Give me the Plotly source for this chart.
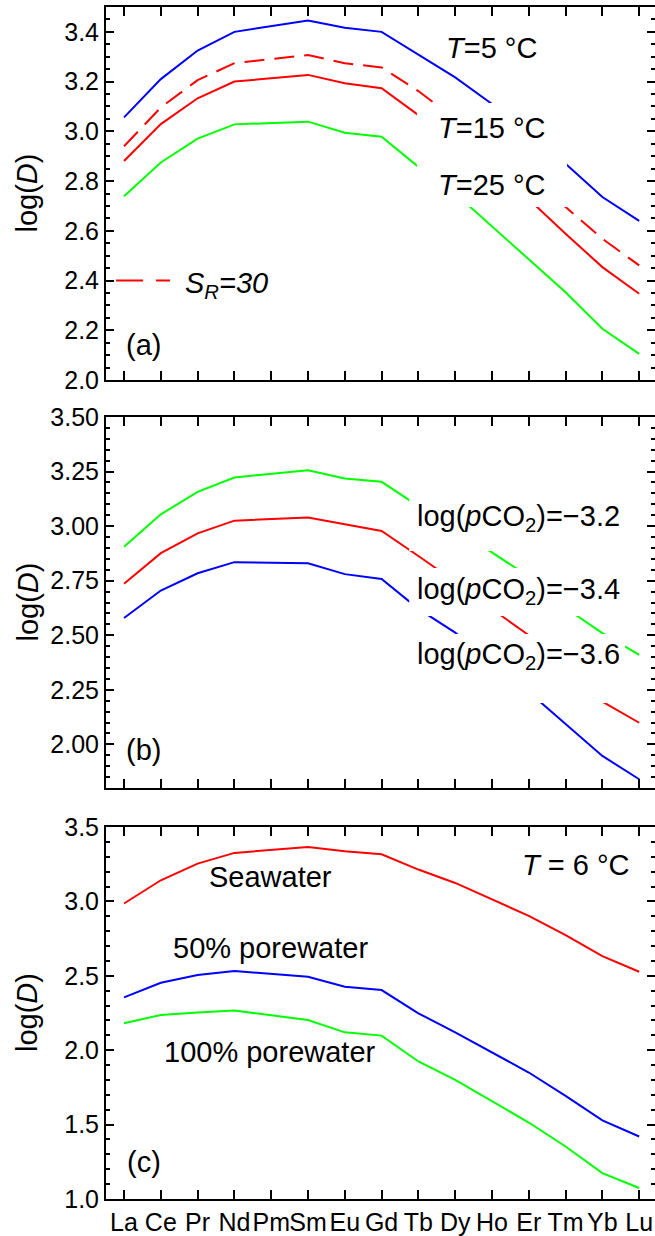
import plotly.graph_objects as go

# ---------------- data ----------------
elements = ["La", "Ce", "Pr", "Nd", "Pm", "Sm", "Eu", "Gd", "Tb", "Dy", "Ho", "Er", "Tm", "Yb", "Lu"]
elements_data = ["La", "Ce", "Pr", "Nd", "Sm", "Eu", "Gd", "Tb", "Dy", "Ho", "Er", "Tm", "Yb", "Lu"]

# panel (a): temperature
a_T5 = [3.056, 3.210, 3.325, 3.400, 3.446, 3.417, 3.400, 3.307, 3.217, 3.110, 2.990, 2.870, 2.736, 2.640]
a_SR30 = [2.940, 3.096, 3.206, 3.274, 3.307, 3.274, 3.257, 3.162, 3.050, 2.930, 2.810, 2.696, 2.568, 2.461]
a_T15 = [2.881, 3.029, 3.133, 3.200, 3.227, 3.193, 3.173, 3.065, 2.950, 2.840, 2.727, 2.588, 2.454, 2.347]
a_T25 = [2.739, 2.875, 2.971, 3.028, 3.039, 2.994, 2.978, 2.857, 2.750, 2.619, 2.486, 2.353, 2.206, 2.105]

# panel (b): pCO2
b_m32 = [2.906, 3.054, 3.157, 3.223, 3.256, 3.218, 3.203, 3.092, 2.990, 2.879, 2.769, 2.625, 2.510, 2.410]
b_m34 = [2.736, 2.876, 2.967, 3.025, 3.039, 3.010, 2.978, 2.863, 2.745, 2.620, 2.500, 2.343, 2.196, 2.099]
b_m36 = [2.579, 2.705, 2.784, 2.835, 2.830, 2.780, 2.758, 2.621, 2.512, 2.373, 2.240, 2.093, 1.947, 1.840]

# panel (c): water type
c_sea = [2.986, 3.142, 3.254, 3.326, 3.366, 3.337, 3.317, 3.214, 3.124, 3.015, 2.903, 2.773, 2.632, 2.527]
c_50 = [2.355, 2.453, 2.505, 2.532, 2.494, 2.427, 2.404, 2.248, 2.120, 1.986, 1.850, 1.693, 1.528, 1.420]
c_100 = [2.181, 2.237, 2.254, 2.266, 2.203, 2.120, 2.098, 1.924, 1.800, 1.655, 1.514, 1.353, 1.174, 1.074]

BLUE, RED, GREEN = "#0000FF", "#FF0000", "#00FF00"
FONT = "Liberation Sans, Arial, sans-serif"

fig = go.Figure()


def add(xa, ya, y, color, dash="solid"):
    fig.add_trace(go.Scatter(x=elements_data, y=y, mode="lines",
                             line=dict(color=color, width=2, dash=dash),
                             xaxis=xa, yaxis=ya, showlegend=False, hoverinfo="skip"))


add("x", "y", a_T5, BLUE)
add("x", "y", a_SR30, RED, "20px,10px")
add("x", "y", a_T15, RED)
add("x", "y", a_T25, GREEN)
add("x2", "y2", b_m32, GREEN)
add("x2", "y2", b_m34, RED)
add("x2", "y2", b_m36, BLUE)
add("x3", "y3", c_sea, RED)
add("x3", "y3", c_50, BLUE)
add("x3", "y3", c_100, GREEN)

top, bot = 7.0, 1199.0
ph = bot - top


def dom(p_top, p_bot):
    return [(bot - p_bot) / ph, (bot - p_top) / ph]


xcommon = dict(type="category", categoryorder="array", categoryarray=elements,
               range=[-0.49, 14.43], showline=True, linecolor="black", linewidth=2,
               mirror="allticks", ticks="inside", ticklen=9, tickwidth=2, tickcolor="black",
               showgrid=False, zeroline=False, tickangle=0, automargin=False,
               tickfont=dict(size=25, color="black", family=FONT))


def ycommon(rng, dtick, fmt, mdtick):
    return dict(range=rng, tick0=0, dtick=dtick, tickformat=fmt, automargin=False,
                showline=True, linecolor="black", linewidth=2, mirror="allticks",
                ticks="inside", ticklen=8, tickwidth=2, tickcolor="black",
                minor=dict(dtick=mdtick, tick0=0, ticks="inside", ticklen=4,
                           tickwidth=2, tickcolor="black"),
                showgrid=False, zeroline=False,
                tickfont=dict(size=25, color="black", family=FONT))


fig.update_layout(
    width=655, height=1236,
    margin=dict(l=106, r=0, t=7, b=37, autoexpand=False),
    paper_bgcolor="white", plot_bgcolor="white",
    font=dict(family=FONT, color="black"),
    xaxis=dict(xcommon, anchor="y", domain=[0, 1], showticklabels=False),
    xaxis2=dict(xcommon, anchor="y2", domain=[0, 1], showticklabels=False),
    xaxis3=dict(xcommon, anchor="y3", domain=[0, 1], showticklabels=True),
    yaxis=dict(ycommon([2.0, 3.5], 0.2, ".1f", 0.05), anchor="x", domain=dom(7, 380)),
    yaxis2=dict(ycommon([1.8, 3.5], 0.25, ".2f", 0.05), anchor="x2", domain=dom(417, 788)),
    yaxis3=dict(ycommon([1.0, 3.5], 0.5, ".1f", 0.1), anchor="x3", domain=dom(827, 1199)),
)

# white boxes behind labels (cut the lines as in the original)
boxes = [
    ("x", "y", 7.96, 12.04, 2.905, 3.114),
    ("x", "y", 7.96, 12.04, 2.696, 2.905),
    ("x2", "y2", 7.75, 13.62, 2.886, 3.143),
    ("x2", "y2", 7.75, 13.62, 2.588, 2.808),
    ("x2", "y2", 7.75, 13.62, 2.189, 2.506),
]
shapes = []
for xr, yr, x0, x1, y0, y1 in boxes:
    shapes.append(dict(type="rect", xref=xr, yref=yr, x0=x0, x1=x1, y0=y0, y1=y1,
                       fillcolor="white", line=dict(width=0), layer="above"))
# legend key for the dashed S_R=30 line
shapes.append(dict(type="line", xref="x", yref="y", x0=-0.217, x1=1.25, y0=2.4, y1=2.4,
                   line=dict(color=RED, width=2, dash="27px,13px"), layer="above"))
fig.update_layout(shapes=shapes)

AF = dict(size=29, color="black", family=FONT)
ann = []


def txt(xr, yr, x, y, text, xanchor="center"):
    ann.append(dict(xref=xr, yref=yr, x=x, y=y, text=text, showarrow=False,
                    xanchor=xanchor, yanchor="middle", font=AF))


txt("x", "y", 10.0, 3.335, "<i>T</i>=5 °C")
txt("x", "y", 10.0, 3.013, "<i>T</i>=15 °C")
txt("x", "y", 10.0, 2.783, "<i>T</i>=25 °C")
txt("x", "y", 1.60, 2.382, "<i>S</i><sub><i>R</i></sub><i>=30</i>", xanchor="left")
txt("x", "y", 0.54, 2.141, "(a)")

txt("x2", "y2", 10.71, 3.037, "log(<i>p</i>CO<sub>2</sub>)=−3.2")
txt("x2", "y2", 10.71, 2.703, "log(<i>p</i>CO<sub>2</sub>)=−3.4")
txt("x2", "y2", 10.71, 2.405, "log(<i>p</i>CO<sub>2</sub>)=−3.6")
txt("x2", "y2", 0.54, 1.974, "(b)")

txt("x3", "y3", 3.97, 3.164, "Seawater")
txt("x3", "y3", 3.97, 2.687, "50% porewater")
txt("x3", "y3", 3.97, 1.988, "100% porewater")
txt("x3", "y3", 12.28, 3.245, "<i>T</i> = 6 °C")
txt("x3", "y3", 0.54, 1.249, "(c)")

# y-axis titles
for yd in ["y domain", "y2 domain", "y3 domain"]:
    ann.append(dict(xref="paper", yref=yd, x=(27 - 106) / 549.0, y=0.5,
                    text="log(<i>D</i>)", textangle=-90, showarrow=False,
                    xanchor="center", yanchor="middle", font=AF))

fig.update_layout(annotations=ann)

fig.write_html("out.html")
